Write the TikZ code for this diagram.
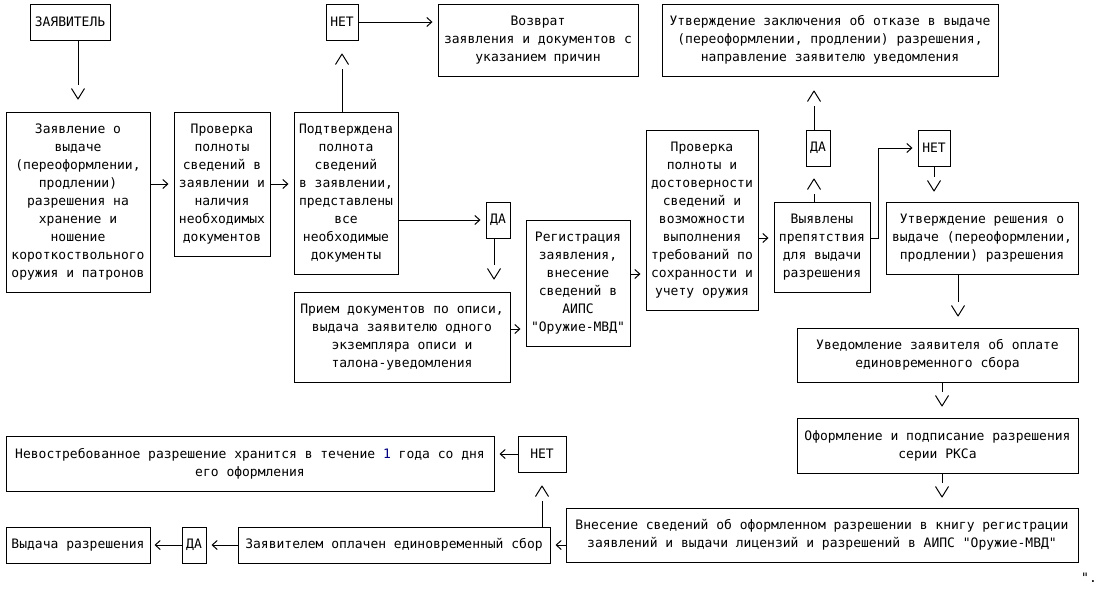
\documentclass[tikz,border=0pt]{standalone}
\usepackage{fontspec}
\newfontfamily\monof{DejaVu Sans Mono}
\usetikzlibrary{arrows.meta}
\definecolor{navyblue}{HTML}{000080}
% V-shaped arrow tip with a small gap between the line end and the tip
\pgfdeclarearrow{
  name = GapV,
  setup code = {
    \pgfarrowssettipend{0pt}
    \pgfarrowssetlineend{-15pt}
    \pgfarrowssetbackend{-15pt}
    \pgfarrowssetvisualbackend{-11pt}
    \pgfarrowshullpoint{0pt}{0pt}
    \pgfarrowshullpoint{-11pt}{6.5pt}
    \pgfarrowshullpoint{-11pt}{-6.5pt}
  },
  drawing code = {
    \pgfsetdash{}{0pt}
    \pgfsetroundjoin
    \pgfsetbuttcap
    \pgfpathmoveto{\pgfqpoint{-11pt}{6.5pt}}
    \pgfpathlineto{\pgfqpoint{-0.5pt}{0pt}}
    \pgfpathlineto{\pgfqpoint{-11pt}{-6.5pt}}
    \pgfusepathqstroke
  }
}
\begin{document}
\begin{tikzpicture}[x=1pt,y=-1pt,
  txt/.style={font=\monof\fontsize{13}{18}\selectfont},
  bx/.style 2 args={draw,line width=1pt,inner sep=0pt,align=center,txt,
    minimum width=#1,minimum height=#2},
  harr/.style={line width=1pt,-{Straight Barb[length=5pt,width=9pt]},shorten >=5pt},
  varr/.style={line width=1pt,-{GapV},shorten >=#1},
  varr/.default=12pt]
\useasboundingbox (0,0) rectangle (1102,589);
\fill[white] (0,0) rectangle (1102,589);

% nodes
\node[bx={80}{36}] (zv) at (70,22) {ЗАЯВИТЕЛЬ};
\node[bx={144}{180}] (zayav) at (78,202) {Заявление о\\выдаче\\(переоформлении,\\продлении)\\разрешения на\\хранение и\\ношение\\короткоствольного\\оружия и патронов};
\node[bx={96}{144}] (prov1) at (222,184) {Проверка\\полноты\\сведений в\\заявлении и\\наличия\\необходимых\\документов};
\node[bx={104}{162}] (podtv) at (346,193) {Подтверждена\\полнота\\сведений\\в заявлении,\\представлены\\все\\необходимые\\документы};
\node[bx={32}{36}] (net1) at (342,22) {НЕТ};
\node[bx={200}{72}] (vozv) at (538,40) {Возврат\\заявления и документов с\\указанием причин};
\node[bx={24}{36}] (da1) at (498,220) {ДА};
\node[bx={216}{90}] (priem) at (402,337) {Прием документов по описи,\\выдача заявителю одного\\экземпляра описи и\\талона-уведомления};
\node[bx={104}{126}] (reg) at (578,283) {Регистрация\\заявления,\\внесение\\сведений в\\АИПС\\"Оружие-МВД"};
\node[bx={112}{180}] (prov2) at (702,220) {Проверка\\полноты и\\достоверности\\сведений и\\возможности\\выполнения\\требований по\\сохранности и\\учету оружия};
\node[bx={96}{90}] (vyyav) at (822,247) {Выявлены\\препятствия\\для выдачи\\разрешения};
\node[bx={24}{36}] (da2) at (818,148) {ДА};
\node[bx={336}{72}] (utzakl) at (830,40) {Утверждение заключения об отказе в выдаче\\(переоформлении, продлении) разрешения,\\направление заявителю уведомления};
\node[bx={32}{36}] (net2) at (934,148) {НЕТ};
\node[bx={192}{72}] (utresh) at (982,238) {Утверждение решения о\\выдаче (переоформлении,\\продлении) разрешения};
\node[bx={281}{54}] (uved) at (937.5,355) {Уведомление заявителя об оплате\\единовременного сбора};
\node[bx={281}{55}] (oform) at (937.5,445.5) {Оформление и подписание разрешения\\серии РКСа};
\node[bx={512}{54}] (vnes) at (822,535) {Внесение сведений об оформленном разрешении в книгу регистрации\\заявлений и выдачи лицензий и разрешений в АИПС "Оружие-МВД"};
\node[bx={312}{36}] (zayopl) at (394,545) {Заявителем оплачен единовременный сбор};
\node[bx={48}{36}] (net3) at (542,454) {НЕТ};
\node[bx={488}{55}] (nevostr) at (250,463.5) {Невостребованное разрешение хранится в течение {\color{navyblue}1} года со дня\\его оформления};
\node[bx={24}{36}] (da3) at (194,545) {ДА};
\node[bx={144}{36}] (vydacha) at (78,545) {Выдача разрешения};
\node[txt,inner sep=0pt] (endq) at (1089,578) {".};

% helper coordinates
\coordinate (p1) at ([yshift=8pt]priem.east);
\coordinate (p2) at ([yshift=9pt]reg.east);
\coordinate (p3) at ([yshift=9pt]vyyav.west);
\coordinate (p4) at ([yshift=9pt]vyyav.east);

% connectors
\draw[varr] (zv.south -| zayav.north) -- (zayav.north);
\draw[harr] (zayav.east |- prov1.west) -- (prov1.west);
\draw[harr] (prov1.east) -- (podtv.west |- prov1.east);
\draw[varr=13pt] (podtv.north -| net1.south) -- (net1.south);
\draw[harr] (net1.east) -- (vozv.west |- net1.east);
\draw[harr] (podtv.east |- da1.west) -- (da1.west);
\draw[varr] ([xshift=-4pt]da1.south) -- ([xshift=-4pt]da1.south |- priem.north);
\draw[harr] (p1) -- (reg.west |- p1);
\draw[harr] (p2) -- (prov2.west |- p2);
\draw[harr] (prov2.east |- p3) -- (p3);
\draw[varr=12pt] ([xshift=-4pt]da2.south |- vyyav.north) -- ([xshift=-4pt]da2.south);
\draw[varr=14pt] ([xshift=-4pt]da2.north) -- ([xshift=-4pt]da2.north |- utzakl.south);
\draw[harr] (p4) -- ++(8,0) |- (net2.west);
\draw[varr=10pt] (net2.south) -- (net2.south |- utresh.north);
\draw[varr=11pt] ([xshift=-24pt]utresh.south) -- ([xshift=-24pt]utresh.south |- uved.north);
\draw[varr=11pt] ([xshift=4.5pt]uved.south) -- ([xshift=4.5pt]oform.north);
\draw[varr=10pt] ([xshift=4.5pt]oform.south) -- ([xshift=4.5pt]oform.south |- vnes.north);
\draw[harr] (vnes.west |- zayopl.east) -- (zayopl.east);
\draw[varr=13pt] (net3.south |- zayopl.north) -- (net3.south);
\draw[harr] (net3.west) -- (nevostr.east |- net3.west);
\draw[harr] (zayopl.west) -- (da3.east);
\draw[harr,shorten >=4pt] (da3.west) -- (vydacha.east);
\end{tikzpicture}
\end{document}
